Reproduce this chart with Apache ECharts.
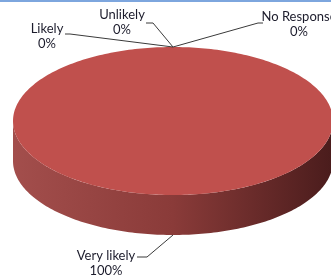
<!DOCTYPE html>
<html>
<head>
<meta charset="utf-8">
<script src="https://cdn.jsdelivr.net/npm/echarts@6/dist/echarts.min.js"></script>
<style>
html,body{margin:0;padding:0;background:#fff}
#chart{width:331px;height:279px}
</style>
</head>
<body>
<div id="chart"></div>
<script>
var names = ['Very likely', 'Likely', 'Unlikely', 'No Response'];
var values = [100, 0, 0, 0];

// 3d pie geometry, pixels
var cx = 173, cy = 121, rx = 160, ry = 74, depth = 40;
// label layout: [text centre x, name line y, leader start x, elbow x, leader y]
var labelBoxes = [
    [106, 256, 137, 147, 257],
    [47, 29, 65, 70, 34],
    [122, 15, 146, 153, 23],
    [299, 17, 263, 258, 23]
];
var font = '13px Lato';

var total = values.reduce(function(a, b){ return a + b }, 0);

function arcPts(a0, a1, yOff){
    var pts = [];
    var n = Math.max(2, Math.ceil(Math.abs(a1 - a0) / 0.02));
    for(var i = 0; i <= n; i++){
        var t = a0 + (a1 - a0) * i / n;
        pts.push([cx + rx * Math.cos(t), cy + yOff + ry * Math.sin(t)]);
    }
    return pts;
}

var sideFill = new echarts.graphic.LinearGradient(cx - rx, 0, cx + rx, 0, [
    {offset: 0, color: '#A34E4C'},
    {offset: 0.5, color: '#8A3B39'},
    {offset: 1, color: '#4A1C1C'}
], true);

function renderItem(params, api){
    var idx = params.dataIndex;
    var cum = 0;
    for(var i = 0; i < idx; i++) cum += values[i];
    var v = values[idx];
    var a0 = -Math.PI / 2 + 2 * Math.PI * cum / total;
    var a1 = a0 + 2 * Math.PI * v / total;
    var children = [];

    if(v > 0){
        // side wall, only the front half is visible
        [-2 * Math.PI, 0, 2 * Math.PI].forEach(function(k){
            var b0 = Math.max(a0, k), b1 = Math.min(a1, k + Math.PI);
            if(b1 > b0){
                var pts = arcPts(b0, b1, 0).concat(arcPts(b1, b0, depth));
                children.push({type: 'polygon', z2: 1, shape: {points: pts},
                    style: {fill: sideFill}});
            }
        });
        // top face
        var top = [[cx, cy]].concat(arcPts(a0, a1, 0));
        children.push({type: 'polygon', z2: 2, shape: {points: top},
            style: {fill: '#C0504D'}});
    }

    // label + leader line
    var m = (a0 + a1) / 2;
    var ax = cx + rx * Math.cos(m);
    var ay = cy + ry * Math.sin(m) + (Math.sin(m) > 0.001 ? depth : 0);
    var lb = labelBoxes[idx];
    children.push({type: 'polyline', z2: 3,
        shape: {points: [[lb[2], lb[4]], [lb[3], lb[4]], [ax, ay]]},
        style: {stroke: '#3a3a3a', lineWidth: 1, fill: null}});
    var pct = Math.round(v / total * 100) + '%';
    children.push({type: 'text', z2: 4, style: {text: names[idx], x: lb[0], y: lb[1],
        align: 'center', verticalAlign: 'middle', font: font, fill: '#1c1c2c'}});
    children.push({type: 'text', z2: 4, style: {text: pct, x: lb[0], y: lb[1] + 15,
        align: 'center', verticalAlign: 'middle', font: font, fill: '#1c1c2c'}});

    return {type: 'group', children: children};
}

var chart = echarts.init(document.getElementById('chart'));
chart.setOption({
    animation: false,
    graphic: [{type: 'rect', shape: {x: 0, y: 0, width: 331, height: 2},
        style: {fill: '#7DA6DE'}}],
    series: [{
        type: 'custom',
        coordinateSystem: 'none',
        silent: true,
        renderItem: renderItem,
        data: values
    }]
});
</script>
</body>
</html>
